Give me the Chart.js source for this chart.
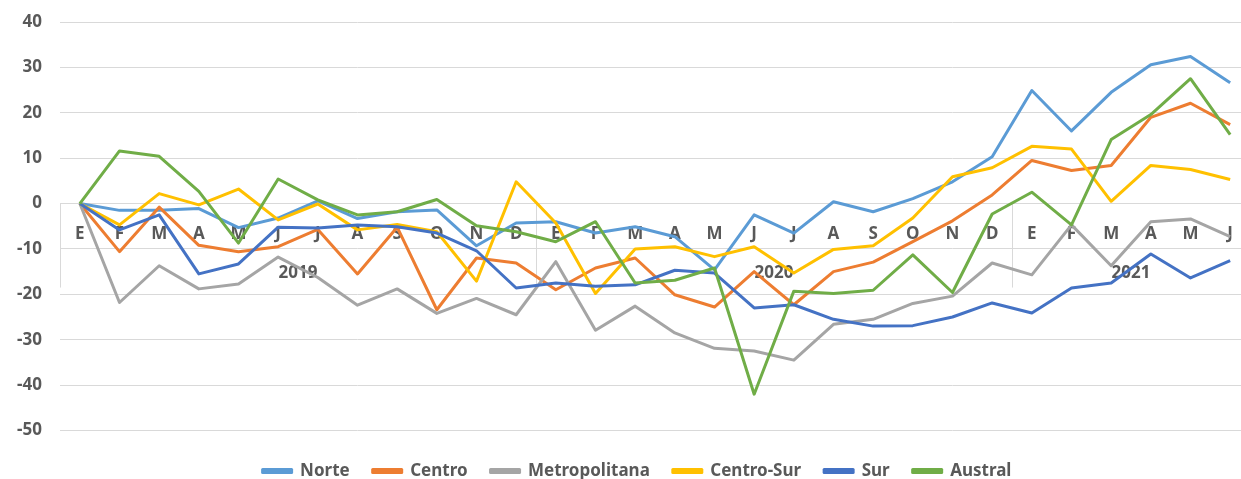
<!DOCTYPE html>
<html>
<head>
<meta charset="utf-8">
<script src="https://cdn.jsdelivr.net/npm/chart.js@4.4.1/dist/chart.umd.min.js"></script>
<style>
  html, body { margin: 0; padding: 0; background: #fff; overflow: hidden; }
</style>
</head>
<body>
<canvas id="chart" width="1251" height="479"></canvas>
<script>
// months (E = enero ... D = diciembre), Jan 2019 - Jun 2021
const months = ['E','F','M','A','M','J','J','A','S','O','N','D',
                'E','F','M','A','M','J','J','A','S','O','N','D',
                'E','F','M','A','M','J']
const years = ['2019', '2020', '2021']
const yearLengths = [12, 12, 6]

const norte = [0, -1.5, -1.5, -1.1, -5.3, -3.2, 0.6, -3.3, -1.8, -1.4, -9.3, -4.3,
  -4.0, -6.5, -5.1, -7.3, -14.6, -2.5, -6.5, 0.4, -1.8, 1.1, 4.8, 10.3,
  24.9, 16.0, 24.5, 30.6, 32.4, 26.6]
const centro = [0, -10.6, -0.8, -9.2, -10.6, -9.5, -5.7, -15.5, -5.2, -23.4, -12.0, -13.1,
  -19.0, -14.2, -12.0, -20.1, -22.8, -15.0, -22.3, -15.0, -12.9, -8.4, -3.8, 1.9,
  9.5, 7.3, 8.4, 19.0, 22.1, 17.4]
const metropolitana = [0, -21.8, -13.7, -18.8, -17.7, -11.8, -16.3, -22.4, -18.8, -24.2, -20.9, -24.5,
  -12.8, -27.9, -22.6, -28.5, -31.9, -32.5, -34.5, -26.6, -25.5, -22.0, -20.4, -13.1,
  -15.7, -4.7, -13.7, -4.0, -3.4, -7.3]
const centroSur = [0, -4.7, 2.2, -0.3, 3.2, -3.6, -0.1, -5.8, -4.6, -6.2, -17.1, 4.8,
  -4.3, -19.8, -10.0, -9.5, -11.7, -9.5, -15.3, -10.1, -9.3, -3.2, 5.9, 7.9,
  12.6, 12.0, 0.5, 8.4, 7.5, 5.3]
const sur = [0, -5.8, -2.5, -15.5, -13.3, -5.2, -5.4, -4.7, -5.1, -6.5, -10.4, -18.6,
  -17.5, -18.2, -17.9, -14.7, -15.3, -23.0, -22.3, -25.5, -27.0, -26.9, -25.0, -21.9,
  -24.1, -18.6, -17.5, -11.1, -16.4, -12.6]
const austral = [0, 11.6, 10.4, 2.7, -8.7, 5.4, 0.8, -2.5, -1.8, 0.9, -4.9, -6.2,
  -8.4, -4.0, -17.5, -16.9, -14.2, -42.0, -19.3, -19.8, -19.1, -11.3, -19.6, -2.3,
  2.5, -4.7, 14.1, 19.6, 27.5, 15.2]

const seriesNames = ['Norte', 'Centro', 'Metropolitana', 'Centro-Sur', 'Sur', 'Austral']
const seriesData = [norte, centro, metropolitana, centroSur, sur, austral]
const seriesColors = ['#5B9BD5', '#ED7D31', '#A5A5A5', '#FFC000', '#4472C4', '#70AD47']

const textColor = '#595959'
const gridColor = '#D9D9D9'
const fontFamily = '"Noto Sans", "DejaVu Sans", sans-serif'

// second level of the category axis: year labels and group separators
const yearAxis = {
  id: 'yearAxis',
  beforeDatasetsDraw(chart) {
    const { ctx, scales: { x, y } } = chart
    const y0 = y.getPixelForValue(0)
    const half = (x.getPixelForValue(1) - x.getPixelForValue(0)) / 2
    ctx.save()
    ctx.strokeStyle = gridColor
    ctx.lineWidth = 1
    ctx.fillStyle = textColor
    ctx.font = 'bold 17px ' + fontFamily
    ctx.textAlign = 'center'
    ctx.textBaseline = 'middle'
    let start = 0
    years.forEach((yr, i) => {
      const end = start + yearLengths[i]
      const left = Math.round(x.getPixelForValue(start) - half) + 0.5
      ctx.beginPath()
      ctx.moveTo(left, y0)
      ctx.lineTo(left, y0 + 84)
      ctx.stroke()
      const mid = (x.getPixelForValue(start) + x.getPixelForValue(end - 1)) / 2
      ctx.fillText(yr, mid, y0 + 70)
      start = end
    })
    ctx.restore()
  },
  afterLayout(chart) {
    // nudge the legend to where the original sits
    chart.legend.left += 12
    chart.legend.right += 12
    chart.legend.top += 9
    chart.legend.bottom += 9
  }
}

new Chart(document.getElementById('chart'), {
  type: 'line',
  data: {
    labels: months,
    datasets: seriesNames.map((name, i) => ({
      label: name,
      data: seriesData[i],
      borderColor: seriesColors[i],
      backgroundColor: seriesColors[i],
      borderWidth: 3,
      pointRadius: 0,
      tension: 0,
      borderJoinStyle: 'round',
      order: seriesNames.length - i
    }))
  },
  options: {
    responsive: false,
    devicePixelRatio: 1,
    animation: false,
    layout: { padding: { top: 0, right: 1, bottom: -1.5, left: 0 } },
    scales: {
      x: {
        type: 'category',
        offset: true,
        position: { y: 0 },
        grid: {
          display: true,
          drawOnChartArea: false,
          drawTicks: true,
          tickLength: 20,
          tickColor: 'rgba(0,0,0,0)'
        },
        border: { color: gridColor, width: 1 },
        ticks: {
          color: textColor,
          font: { family: fontFamily, size: 17, weight: 'bold' },
          padding: 0,
          maxRotation: 0,
          autoSkip: false
        }
      },
      y: {
        min: -50,
        max: 40,
        ticks: {
          stepSize: 10,
          color: textColor,
          font: { family: fontFamily, size: 17, weight: 'bold' },
          padding: 18
        },
        grid: { color: gridColor, drawTicks: false },
        border: { display: false },
        afterFit(scale) {
          scale.width = 60
          scale.paddingTop = 22
        }
      }
    },
    plugins: {
      legend: {
        position: 'bottom',
        labels: {
          boxWidth: 29,
          boxHeight: 3,
          padding: 23,
          color: textColor,
          font: { family: fontFamily, size: 17, weight: 'bold' },
          sort: (a, b) => a.datasetIndex - b.datasetIndex
        }
      },
      tooltip: { enabled: false }
    }
  },
  plugins: [yearAxis]
})
</script>
</body>
</html>
